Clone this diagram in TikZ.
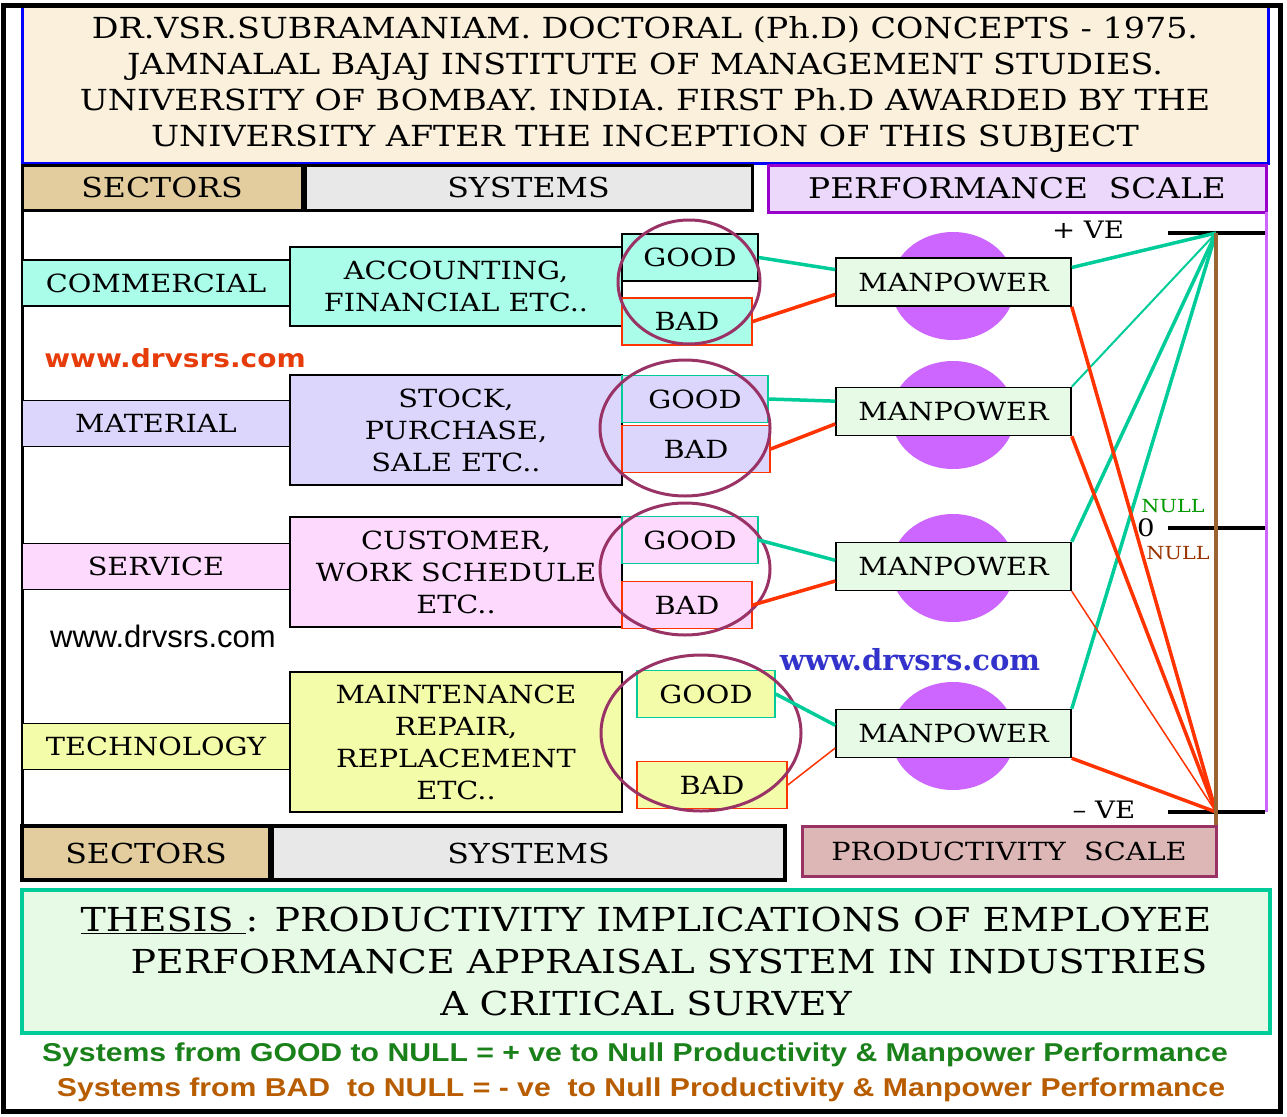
\documentclass[tikz,border=0pt]{standalone}
\usepackage{fontspec}
\usepackage{tikz}
\usetikzlibrary{shapes.geometric}

\newfontfamily\slab[FakeStretch=1.15]{DejaVu Serif}
\newfontfamily\wideb[FakeStretch=1.17]{Liberation Sans}
\newfontfamily\webb[FakeStretch=1.12]{DejaVu Sans}
\newfontfamily\webs{DejaVu Serif}
\newfontfamily\arialf{Liberation Sans}

\definecolor{headbg}{RGB}{250,240,220}
\definecolor{tanbg}{RGB}{227,205,158}
\definecolor{greybg}{RGB}{232,232,232}
\definecolor{perfbg}{RGB}{235,216,251}
\definecolor{perfc}{RGB}{153,0,204}
\definecolor{aquabg}{RGB}{170,253,233}
\definecolor{lavbg}{RGB}{221,214,252}
\definecolor{pinkbg}{RGB}{253,218,253}
\definecolor{yelbg}{RGB}{243,252,169}
\definecolor{manbg}{RGB}{230,250,230}
\definecolor{goodc}{RGB}{0,204,153}
\definecolor{badc}{RGB}{255,51,0}
\definecolor{ringc}{RGB}{153,51,102}
\definecolor{blobc}{RGB}{204,102,255}
\definecolor{prodbg}{RGB}{221,182,182}
\definecolor{brownc}{RGB}{153,102,51}
\definecolor{webred}{RGB}{230,60,10}
\definecolor{webblue}{RGB}{51,51,204}
\definecolor{txtgreen}{RGB}{26,128,26}
\definecolor{txtbrown}{RGB}{184,92,0}
\definecolor{nullgreen}{RGB}{0,153,0}
\definecolor{nullbrown}{RGB}{153,51,0}

\begin{document}
\begin{tikzpicture}[x=1pt,y=-1pt]
	\tikzstyle{box} = [draw=black, line width=1.5pt, inner sep=0pt, align=center, font=\slab\fontsize{25}{32}\selectfont]
	\tikzstyle{sector} = [box, minimum width=268pt, minimum height=46pt]
	\tikzstyle{system} = [box, minimum width=332pt]
	\tikzstyle{good} = [box, draw=goodc, minimum height=47pt]
	\tikzstyle{bad} = [box, draw=badc, minimum height=47pt]
	\tikzstyle{ring} = [ellipse, draw=ringc, line width=3pt, inner sep=0pt]
	\tikzstyle{blob} = [ellipse, fill=blobc, minimum width=124pt, minimum height=108pt]
	\tikzstyle{man} = [box, fill=manbg, minimum width=235pt, minimum height=48pt]
	\tikzstyle{goodline} = [goodc, line width=3.5pt]
	\tikzstyle{badline} = [badc, line width=3.5pt]
	\tikzstyle{tick} = [line width=4pt]
	\tikzstyle{vel} = [font=\slab\fontsize{24}{28}\selectfont, inner sep=0pt]
	\tikzstyle{headcell} = [box, font=\slab\fontsize{27.5}{32}\selectfont]

	\useasboundingbox (0,0) rectangle (1287,1116);

	\node [box, draw=blue, line width=3pt, fill=headbg, minimum width=1246pt, minimum height=158pt, font=\slab\fontsize{29}{36}\selectfont] (head) at (645,84) {DR.VSR.SUBRAMANIAM. DOCTORAL (Ph.D) CONCEPTS - 1975.\\JAMNALAL BAJAJ INSTITUTE OF MANAGEMENT STUDIES.\\UNIVERSITY OF BOMBAY. INDIA. FIRST Ph.D AWARDED BY THE\\UNIVERSITY AFTER THE INCEPTION OF THIS SUBJECT};

	\node [headcell, fill=tanbg, line width=3pt, minimum width=280pt, minimum height=45pt] (sectop) at (162,187.5) {SECTORS};
	\node [headcell, fill=greybg, line width=3pt, minimum width=447pt, minimum height=45pt] (systop) at (528.5,187.5) {SYSTEMS};
	\node [headcell, draw=perfc, fill=perfbg, line width=3pt, minimum width=498pt, minimum height=47pt, font=\slab\fontsize{28.5}{32}\selectfont] (perf) at (1017,188.5) {PERFORMANCE\ \ SCALE};

	\draw [line width=3pt] (22,210) -- (22,880);
	\draw [blobc, line width=3pt] (1266,212) -- (1266,812);

	\node [sector, fill=aquabg] (sec1) at (156,283) {COMMERCIAL};
	\node [system, fill=aquabg, minimum height=79pt] (sys1) at (456,286.5) {ACCOUNTING,\\FINANCIAL ETC..};
	\node [good, draw=black, fill=aquabg, minimum width=136pt] (good1) at (690,257.5) {GOOD};
	\node [bad, fill=aquabg, minimum width=130pt] (bad1) at (687,321.5) {BAD};
	\node [ring, minimum width=142pt, minimum height=124pt] (ring1) at (689,282) {};

	\node [sector, fill=lavbg] (sec2) at (156,423.5) {MATERIAL};
	\node [system, fill=lavbg, minimum height=110pt] (sys2) at (456,430) {STOCK,\\PURCHASE,\\SALE ETC..};
	\node [good, fill=lavbg, minimum width=146pt] (good2) at (695,399) {GOOD};
	\node [bad, fill=lavbg, minimum width=148pt] (bad2) at (696,449) {BAD};
	\node [ring, minimum width=170pt, minimum height=136pt] (ring2) at (685,428) {};

	\node [sector, fill=pinkbg] (sec3) at (156,566.5) {SERVICE};
	\node [system, fill=pinkbg, minimum height=110pt] (sys3) at (456,572) {CUSTOMER,\\WORK SCHEDULE\\ETC..};
	\node [good, fill=pinkbg, minimum width=136pt] (good3) at (690,540) {GOOD};
	\node [bad, fill=pinkbg, minimum width=130pt] (bad3) at (687,605) {BAD};
	\node [ring, minimum width=170pt, minimum height=132pt] (ring3) at (685,569) {};

	\node [sector, fill=yelbg] (sec4) at (156,746.5) {TECHNOLOGY};
	\node [system, fill=yelbg, minimum height=140pt] (sys4) at (456,742) {MAINTENANCE\\REPAIR,\\REPLACEMENT\\ETC..};
	\node [good, fill=yelbg, minimum width=138pt] (good4) at (706,694) {GOOD};
	\node [bad, fill=yelbg, minimum width=150pt] (bad4) at (712,785) {BAD};
	\node [ring, minimum width=200pt, minimum height=156pt] (ring4) at (701,733) {};

	\node [blob] (blob1) at (953,286) {};
	\node [blob] (blob2) at (953,415) {};
	\node [blob] (blob3) at (953,568) {};
	\node [blob] (blob4) at (953,736) {};

	\node [man] (man1) at (953.5,282) {MANPOWER};
	\node [man] (man2) at (953.5,411.5) {MANPOWER};
	\node [man] (man3) at (953.5,566.5) {MANPOWER};
	\node [man] (man4) at (953.5,733.5) {MANPOWER};

	\draw [goodline] (good1.east) -- (man1.174);
	\draw [badline] (bad1.east) -- (man1.186);
	\draw [goodline] (good2.east) -- (man2.175);
	\draw [badline] (bad2.east) -- (man2.186);
	\draw [goodline] (good3.east) -- (man3.177);
	\draw [badline] (bad3.east) -- (man3.187);
	\draw [goodline] (good4.east) -- (man4.176);
	\draw [badline, line width=1.5pt] (bad4.east) -- (man4.187);

	\coordinate (pve) at (1216,233);
	\coordinate (zero) at (1216,528);
	\coordinate (nve) at (1216,812);
	\draw [tick] ([xshift=-48pt]pve) -- ([xshift=49pt]pve);
	\draw [tick] ([xshift=-48pt]zero) -- ([xshift=49pt]zero);
	\draw [tick] ([xshift=-48pt]nve) -- ([xshift=49pt]nve);
	\node [vel] (pvel) at (1088,230) {+ VE};
	\node [vel] (zerol) at (1146,528) {0};
	\node [vel] (nvel) at (1104,810) {– VE};
	\node [vel, font=\slab\fontsize{18}{20}\selectfont, text=nullgreen] (nullg) at (1173,506) {NULL};
	\node [vel, font=\slab\fontsize{18}{20}\selectfont, text=nullbrown] (nullb) at (1178,553) {NULL};

	\draw [goodline] (man1.7) -- (pve);
	\draw [goodline, line width=2pt] (man2.north east) -- (pve);
	\draw [goodline] (man3.north east) -- (pve);
	\draw [goodline] (man4.north east) -- (pve);
	\draw [badline] (man1.south east) -- (nve);
	\draw [badline] (man2.south east) -- (nve);
	\draw [badline, line width=1.5pt] (man3.south east) -- (nve);
	\draw [badline] (man4.south east) -- (nve);
	\draw [brownc, line width=4pt] (pve) -- (1216,878);

	\node [headcell, fill=tanbg, line width=4pt, minimum width=248pt, minimum height=54pt] (secbot) at (146,853) {SECTORS};
	\node [headcell, fill=greybg, line width=4pt, minimum width=513pt, minimum height=54pt] (sysbot) at (528.5,853) {SYSTEMS};
	\node [box, draw=ringc, fill=prodbg, line width=3pt, minimum width=414pt, minimum height=50pt, font=\slab\fontsize{25}{28}\selectfont] (prod) at (1009,851) {PRODUCTIVITY\ \ SCALE};

	\node [font=\webb\bfseries\fontsize{25}{30}\selectfont, text=webred] (web1) at (175,358) {www.drvsrs.com};
	\node [font=\arialf\fontsize{31}{34}\selectfont] (web2) at (163,636) {www.drvsrs.com};
	\node [font=\webs\bfseries\fontsize{29}{32}\selectfont, text=webblue] (web3) at (910,660) {www.drvsrs.com};

	\node [box, draw=goodc, fill=manbg, line width=4pt, minimum width=1248pt, minimum height=143pt, font=\slab\fontsize{33}{42}\selectfont] (thesis) at (646,961.5) {\underline{THESIS\ }: PRODUCTIVITY IMPLICATIONS OF EMPLOYEE\\\hspace*{46pt}PERFORMANCE APPRAISAL SYSTEM IN INDUSTRIES\\A CRITICAL SURVEY};

	\node [font=\wideb\bfseries\fontsize{25.8}{30}\selectfont, text=txtgreen] (goodnote) at (635,1055) {Systems from GOOD to NULL = + ve to Null Productivity \& Manpower Performance};
	\node [font=\wideb\bfseries\fontsize{25.8}{30}\selectfont, text=txtbrown] (badnote) at (641,1090) {Systems from BAD\ \ to NULL = - ve\ \ to Null Productivity \& Manpower Performance};

	\draw [line width=5pt] (3,6) rectangle (1280,1111);
\end{tikzpicture}
\end{document}
